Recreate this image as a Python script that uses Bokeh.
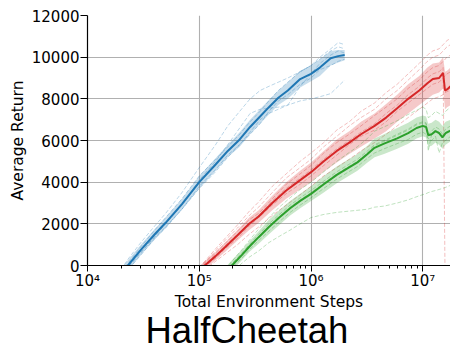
from bokeh.plotting import figure
from bokeh.models import FixedTicker, CustomJSTickFormatter, Title, Range1d
from bokeh.embed import file_html
from bokeh.resources import INLINE

# ---------------- data ----------------
x_ticks = [1e4, 1e5, 1e6, 1e7]
y_ticks = [0, 2000, 4000, 6000, 8000, 10000, 12000]
title_text = "HalfCheetah"

# blue
blue_x = [2.0e4, 2.3e4, 3e4, 4e4, 5e4, 7e4, 1e5, 1.4e5, 1.8e5, 2.3e5, 2.85e5, 3.5e5,
          4.2e5, 5.1e5, 6.2e5, 8e5, 1e6, 1.2e6, 1.5e6, 1.75e6, 2e6]
blue_mean = [-400, 0, 750, 1500, 2050, 2950, 4000, 4850, 5500, 6050, 6650, 7150,
             7600, 8050, 8400, 8950, 9200, 9500, 9950, 10050, 10100]
blue_lo = [-650, -250, 500, 1250, 1800, 2700, 3700, 4550, 5200, 5700, 6300, 6800,
           7250, 7700, 8000, 8550, 8850, 9100, 9600, 9750, 9850]
blue_hi = [-150, 250, 1000, 1750, 2300, 3200, 4300, 5150, 5800, 6400, 7000, 7500,
           7950, 8400, 8800, 9350, 9600, 9900, 10300, 10350, 10350]
blue_runs = [
    [-200, 300, 1100, 1900, 2500, 3500, 4700, 5800, 6700, 7400, 8000, 8400, 8600, 8800, 9000, 9300, 9600, 9900, 10300, 10500, 10400],
    [-600, -200, 500, 1300, 1800, 2700, 3700, 4500, 5200, 5800, 6400, 7000, 7300, 7500, 7700, 7900, 8000, 8100, 8250, 8600, 8900],
    [-500, -100, 600, 1400, 2000, 2900, 4100, 5000, 5800, 6600, 7300, 7500, 7550, 7600, 7700, 8600, 9200, 9700, 10100, 10300, 10200],
    [-300, 100, 900, 1700, 2300, 3200, 4300, 5100, 5700, 6300, 6900, 7400, 7900, 8400, 8800, 9300, 9600, 10000, 10400, 10700, 10600],
    [-450, -50, 650, 1350, 1850, 2700, 3800, 4600, 5300, 5800, 6300, 6800, 7400, 7900, 8200, 8700, 9000, 9400, 9600, 9800, 9900],
]

# red
red_x = [1.0e5, 1.12e5, 1.4e5, 1.7e5, 2.2e5, 2.8e5, 3.4e5, 4.5e5, 6e5, 8e5, 1e6, 1.3e6,
         1.7e6, 2.2e6, 2.8e6, 3.7e6, 4.7e6, 5.9e6, 7.4e6, 9.3e6, 1.1e7, 1.23e7, 1.4e7,
         1.52e7, 1.58e7, 1.65e7, 1.77e7]
red_mean = [-250, 0, 450, 880, 1450, 2000, 2350, 3000, 3600, 4100, 4480, 5000,
            5500, 5900, 6300, 6700, 7100, 7550, 8000, 8400, 8750, 8950, 9000,
            9250, 8400, 8450, 8600]
red_lo = [-450, -200, 250, 650, 1200, 1700, 2050, 2650, 3200, 3650, 4000, 4500,
          4950, 5350, 5700, 6100, 6450, 6900, 7300, 7700, 8000, 8200, 8300,
          8500, 7500, 7600, 7700]
red_hi = [-50, 200, 650, 1100, 1700, 2300, 2650, 3350, 4000, 4550, 4950, 5500,
          6050, 6450, 6900, 7300, 7750, 8200, 8700, 9100, 9500, 9700, 9750,
          10000, 9300, 9350, 9500]
red_runs = [
    [-100, 200, 800, 1300, 1950, 2600, 3050, 3800, 4400, 5000, 5400, 5900, 6500, 6900, 7400, 7800, 8300, 8700, 9200, 9700, 10100, 10300, 10400, 10600, 10700, 10800, 10900],
    [-400, -200, 200, 550, 1000, 1500, 1850, 2400, 2900, 3400, 3800, 4300, 4700, 5100, 5500, 5900, 6300, 6700, 7100, 7500, 7800, 8000, 8100, 8200, 8300, 8350, 8400],
    [-250, 50, 500, 950, 1500, 2050, 2400, 3100, 3700, 4200, 4600, 5100, 5600, 6000, 6400, 6800, 7300, 7700, 8200, 8600, 9000, 9200, 9300, 9500, -200, -200, -200],
    [-300, -50, 350, 800, 1300, 1900, 2300, 2900, 3450, 3900, 4300, 4800, 5300, 5800, 6200, 6500, 6900, 7400, 7800, 8200, 8500, 8700, 8800, 9000, 9100, 9200, 9300],
    [-200, 100, 600, 1050, 1650, 2200, 2500, 3200, 3900, 4400, 4800, 5400, 5900, 6300, 6700, 7200, 7600, 8000, 8500, 8900, 9300, 9500, 9600, 9800, 9900, 10000, 10100],
    [-150, 150, 700, 1200, 1800, 2400, 2800, 3500, 4200, 4700, 5100, 5700, 6200, 6700, 7100, 7500, 8000, 8400, 8900, 9400, 9800, 10000, 10100, 10300, 10400, 10500, 10600],
]

# green
green_x = [1.7e5, 1.96e5, 2.4e5, 2.8e5, 3.4e5, 4.2e5, 5.2e5, 6.5e5, 8e5, 1e6, 1.3e6,
           1.7e6, 2.1e6, 2.6e6, 3.2e6, 3.7e6, 4.5e6, 5.9e6, 7.4e6, 8.8e6, 1.0e7,
           1.07e7, 1.12e7, 1.2e7, 1.3e7, 1.4e7, 1.5e7, 1.6e7, 1.77e7]
green_mean = [-350, 0, 500, 900, 1360, 1850, 2300, 2750, 3100, 3440, 3900,
              4350, 4650, 4950, 5350, 5650, 5850, 6100, 6350, 6600, 6700,
              6650, 6250, 6300, 6450, 6350, 6150, 6350, 6480]
green_lo = [-600, -250, 250, 650, 1050, 1500, 1950, 2400, 2750, 3100, 3500,
            3950, 4250, 4550, 4950, 5200, 5350, 5600, 5850, 6100, 6200,
            6150, 5700, 5750, 5900, 5800, 5600, 5800, 5950]
green_hi = [-100, 250, 750, 1150, 1650, 2200, 2650, 3100, 3450, 3800, 4300,
            4750, 5050, 5350, 5750, 6100, 6300, 6600, 6850, 7100, 7200,
            7150, 6800, 6850, 7000, 6900, 6700, 6900, 7000]
green_runs = [
    [-200, 200, 750, 1200, 1750, 2300, 2800, 3250, 3650, 4000, 4500, 5000, 5350, 5700, 6100, 6450, 6650, 6950, 7250, 7450, 7600, 7500, 7100, 7200, 7400, 7300, 7200, 7400, 7600],
    [-300, 50, 550, 950, 1400, 1900, 2350, 2800, 3150, 3500, 3950, 4400, 4700, 5000, 5400, 5750, 5950, 6250, 6500, 6750, 6850, 6800, 5500, 6300, 6500, 6400, 6200, 6400, 6500],
    [-450, -100, 350, 750, 1200, 1650, 2100, 2550, 2900, 3250, 3700, 4150, 4450, 4750, 5150, 5400, 5600, 5850, 6050, 6300, 6400, 6300, 6100, 6000, 6200, 5400, 5900, 6000, 6200],
    [-250, 100, 600, 1000, 1500, 2000, 2450, 2900, 3250, 3600, 4050, 4500, 4800, 5100, 5500, 5800, 6000, 6300, 6550, 6800, 6900, 6850, 6300, 6450, 6650, 6550, 6300, 6550, 6700],
    [-500, -300, 100, 400, 700, 1100, 1400, 1700, 2000, 2300, 2450, 2550, 2600, 2650, 2700, 2800, 2850, 3000, 3150, 3300, 3400, 3450, 3500, 3550, 3600, 3650, 3700, 3750, 3850],
]

BLUE, RED, GREEN = "#1f77b4", "#d62728", "#2ca02c"

# ---------------- figure ----------------
p = figure(width=450, height=345, x_axis_type="log",
           x_range=Range1d(1e4, 1.77e7), y_range=Range1d(0, 12000),
           output_backend="svg", toolbar_location=None,
           min_border_left=87, min_border_right=0, min_border_top=15,
           min_border_bottom=80)
p.outline_line_color = None
p.background_fill_color = "white"
p.border_fill_color = "white"

series = [
    (blue_x, blue_mean, blue_lo, blue_hi, blue_runs, BLUE),
    (red_x, red_mean, red_lo, red_hi, red_runs, RED),
    (green_x, green_mean, green_lo, green_hi, green_runs, GREEN),
]
for xs, mean, lo, hi, runs, col in series:
    for r in runs:
        p.line(xs, r, line_color=col, line_alpha=0.3, line_width=1, line_dash="4 2")
    p.varea(x=xs, y1=lo, y2=hi, fill_color=col, fill_alpha=0.25)
for xs, mean, lo, hi, runs, col in series:
    p.line(xs, mean, line_color=col, line_width=2)

# axes
minor = [m * 10 ** e for e in range(4, 8) for m in range(2, 10)]
xt = FixedTicker(ticks=x_ticks, minor_ticks=minor)
p.xaxis.ticker = xt
p.xgrid.ticker = xt
yt = FixedTicker(ticks=y_ticks)
p.yaxis.ticker = yt
p.ygrid.ticker = yt

p.xaxis.formatter = CustomJSTickFormatter(code="""
const e = Math.round(Math.log10(tick));
const sup = {4: '\u2074', 5: '\u2075', 6: '\u2076', 7: '\u2077'};
return '10' + (sup[e] || e);
""")

for ax in (p.xaxis[0], p.yaxis[0]):
    ax.axis_line_color = "black"
    ax.axis_line_width = 1.2
    ax.major_tick_line_color = "black"
    ax.major_tick_in = 0
    ax.major_label_text_font = "DejaVu Sans"
    ax.major_label_text_font_size = "15px"
    ax.major_label_text_color = "black"
    ax.axis_label_text_font = "DejaVu Sans"
    ax.axis_label_text_font_size = "15.5px"
    ax.axis_label_text_font_style = "normal"
    ax.axis_label_text_color = "black"

p.yaxis.major_tick_out = 7
p.yaxis.major_label_standoff = 1
p.xaxis.major_tick_out = 6
p.xaxis.major_label_standoff = 0
p.xaxis.minor_tick_line_color = "black"
p.xaxis.minor_tick_in = 0
p.xaxis.minor_tick_out = 3
p.yaxis.minor_tick_line_color = None
p.xaxis.axis_label = "Total Environment Steps"
p.yaxis.axis_label = "Average Return"
p.xaxis.axis_label_standoff = 0
p.yaxis.axis_label_standoff = 2

for g in (p.xgrid[0], p.ygrid[0]):
    g.grid_line_color = "#b0b0b0"
    g.grid_line_width = 1.1

# big caption below the x axis
t = Title(text=title_text, align="left", offset=58,
          text_font="Liberation Sans", text_font_size="36.5px",
          text_font_style="normal", text_color="black",
          vertical_align="bottom")
try:
    t.standoff = -12
except Exception:
    t.standoff = 0
p.add_layout(t, "below")

open("out.html", "w").write(file_html(p, INLINE))
